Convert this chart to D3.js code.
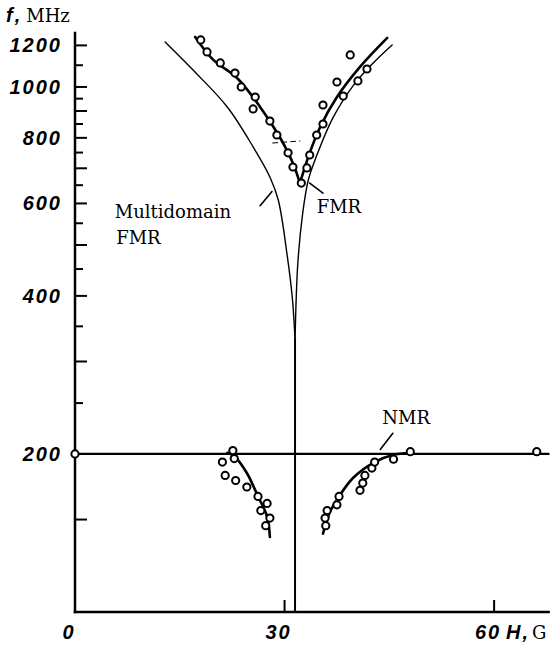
<!DOCTYPE html>
<html><head><meta charset="utf-8">
<script src="https://cdn.jsdelivr.net/npm/d3@7/dist/d3.min.js"></script>
<style>
html,body{margin:0;padding:0;background:#fff;}
svg{display:block;}
.tick{font-family:"Liberation Sans",Arial,sans-serif;font-weight:bold;font-style:italic;font-size:20px;letter-spacing:2px;}
.ser{font-family:"DejaVu Serif",serif;font-size:18px;}
</style></head><body>
<svg id="c" width="551" height="646"></svg>
<script>
// ---- data (H in G, f in MHz) ----
const yMajorTicks = [1200,1000,900,800,700,600,500,400,300,150];
const yMinorTicks = [1100,950,850,750,650,550,450,350,250];
const yTickLabels = [1200,1000,800,600,400,200];
const xTicks = [30,60];
const xTickLabels = [0,30,60];

const multidomainCurve = [[12.9,1218],[16.9,1077],[21.8,916],[25.5,769],[27.9,674],[29.1,609],[30.4,475],[31.1,398],[31.4,350],[31.5,330]];
const theoryRightCurve = [[31.5,330],[31.9,462],[32.6,575],[33.4,665],[34.6,740],[36.9,872],[39.8,1005],[42.7,1111],[45.4,1202]];
const cuspLine = [[31.5,330],[31.5,100]];
const fmrLeftCurve = [[17.2,1245],[19.8,1126],[23.2,1040],[26.5,916],[29.3,803],[31.2,716],[32.2,656]];
const fmrRightCurve = [[32.2,656],[33.6,749],[35.1,839],[37.5,957],[40.8,1092],[44.7,1240]];
const fmrPoints = [[18.0,1229],[18.9,1166],[20.8,1111],[22.9,1063],[23.8,1000],[25.8,957],[25.5,908],[27.9,861],[28.9,810],[30.5,749],[31.2,704],[32.4,656],[33.2,701],[33.6,742],[34.6,810],[35.5,850],[35.5,924],[37.5,1022],[38.4,961],[39.4,1151],[40.5,1027],[41.8,1082]];

const nmrLine = [[0,200],[67.8,200]];
const nmrLeftCurve = [[21.8,201],[22.8,198],[24.6,184],[26.2,166],[27.5,152],[27.9,139]];
const nmrRightCurve = [[35.5,141],[36.5,155],[37.8,166],[39.8,180],[42.9,193],[45.5,199],[48,201]];
const nmrPoints = [[0,200],[22.6,203],[22.8,196],[21.1,193],[21.5,182],[23.0,178],[24.6,173],[26.2,166],[27.5,161],[26.6,156],[27.9,151],[27.3,146],
  [35.9,146],[35.8,151],[36.1,156],[37.5,160],[37.8,166],[40.8,170.5],[41.2,176],[41.5,182],[42.5,188],[42.9,193],[45.6,195.5],[48.0,202],[66.1,202]];

const pointers = [[[26.5,594],[28.2,632]],[[33.6,656],[35.5,628]],[[43.7,204],[45.5,219]]];
const dashMark = [[28.3,782],[32.2,789]];
const labels = [
  {t:"Multidomain", H:5.7, f:563},
  {t:"FMR", H:5.9, f:502},
  {t:"FMR", H:34.6, f:575},
  {t:"NMR", H:44.0, f:228}
];

// ---- scales ----
const x = d3.scaleLinear().domain([0,68]).range([75,550]);
const y = d3.scaleLog().domain([100,1267]).range([612,33]);
const svg = d3.select("#c");
const line = d3.line().x(d=>x(d[0])).y(d=>y(d[1]));
const smooth = d3.line().x(d=>x(d[0])).y(d=>y(d[1])).curve(d3.curveCatmullRom.alpha(0.5));

// axes
const ax = svg.append("g").attr("stroke","#000").attr("stroke-linecap","square");
ax.append("line").attr("x1",x(0)).attr("x2",x(0)).attr("y1",y(100)).attr("y2",y(1267)).attr("stroke-width",2.5);
ax.append("line").attr("x1",x(0)).attr("x2",x(67.8)).attr("y1",y(100)).attr("y2",y(100)).attr("stroke-width",2.5);
ax.selectAll(".ymaj").data(yMajorTicks).join("line").attr("x1",x(0)).attr("x2",x(0)+11).attr("y1",d=>y(d)).attr("y2",d=>y(d)).attr("stroke-width",2);
ax.selectAll(".ymin").data(yMinorTicks).join("line").attr("x1",x(0)).attr("x2",x(0)+7).attr("y1",d=>y(d)).attr("y2",d=>y(d)).attr("stroke-width",2);
ax.selectAll(".xt").data(xTicks).join("line").attr("x1",d=>x(d)).attr("x2",d=>x(d)).attr("y1",y(100)).attr("y2",y(100)-11).attr("stroke-width",2);

svg.selectAll(".yl").data(yTickLabels).join("text").attr("class","tick")
  .attr("x",62).attr("y",d=>y(d)+7).attr("text-anchor","end").text(d=>d);
svg.selectAll(".xl").data(xTickLabels).join("text").attr("class","tick")
  .attr("x",d=>x(d)-6).attr("y",639).attr("text-anchor","middle").text(d=>d);
// axis titles
const ft = svg.append("text").attr("x",6).attr("y",22);
ft.append("tspan").attr("class","tick").text("f,");
ft.append("tspan").attr("class","ser").attr("dx",4).text("MHz");
const ht = svg.append("text").attr("x",x(60)+12).attr("y",639);
ht.append("tspan").attr("class","tick").text("H,");
ht.append("tspan").attr("class","ser").attr("dx",2).text("G");

// curves
const g = svg.append("g").attr("fill","none").attr("stroke","#000").attr("stroke-linecap","round").attr("stroke-linejoin","round");
g.append("path").attr("d",smooth(multidomainCurve)).attr("stroke-width",1.4);
g.append("path").attr("d",smooth(theoryRightCurve)).attr("stroke-width",1.4);
g.append("path").attr("d",line(cuspLine)).attr("stroke-width",2);
g.append("path").attr("d",smooth(fmrLeftCurve)).attr("stroke-width",2.6);
g.append("path").attr("d",smooth(fmrRightCurve)).attr("stroke-width",2.6);
g.append("path").attr("d",line(nmrLine)).attr("stroke-width",2.2);
g.append("path").attr("d",smooth(nmrLeftCurve)).attr("stroke-width",2.6);
g.append("path").attr("d",smooth(nmrRightCurve)).attr("stroke-width",2.6);
pointers.forEach(p=>g.append("path").attr("d",line(p)).attr("stroke-width",1.6));
g.append("path").attr("d",line(dashMark)).attr("stroke-width",1).attr("stroke-dasharray","5,4");

// data points
svg.append("g").selectAll("circle").data(fmrPoints.concat(nmrPoints)).join("circle")
  .attr("cx",d=>x(d[0])).attr("cy",d=>y(d[1])).attr("r",3.6)
  .attr("fill","#fff").attr("stroke","#000").attr("stroke-width",2);

// labels
svg.selectAll(".lab").data(labels).join("text").attr("class","ser")
  .attr("x",d=>x(d.H)).attr("y",d=>y(d.f)).text(d=>d.t);
</script></body></html>
